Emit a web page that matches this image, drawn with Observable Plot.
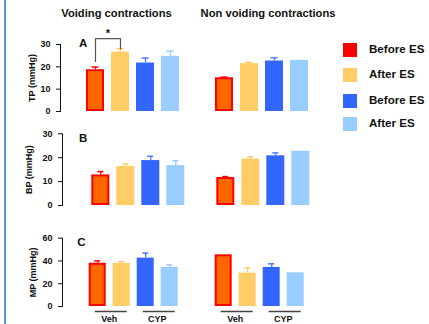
<!DOCTYPE html>
<html>
<head>
<meta charset="utf-8">
<script src="https://cdn.jsdelivr.net/npm/d3@7"></script>
<script src="https://cdn.jsdelivr.net/npm/@observablehq/plot@0.6"></script>
<style>
  html, body { margin: 0; padding: 0; background: #fff; }
  #fig { position: relative; width: 429px; height: 324px; background: #fff; overflow: hidden;
         font-family: "Liberation Sans", Arial, Helvetica, sans-serif; color: #111; }
  .abs { position: absolute; }
  .edge { position: absolute; left: 4px; top: 0; width: 1.5px; height: 324px; background: #5b93dc; }
  .title { position: absolute; font-weight: bold; font-size: 11.2px; line-height: 13px; white-space: nowrap; transform: translateX(-50%); }
  .letter { position: absolute; font-weight: bold; font-size: 11.5px; line-height: 12px; }
  .sw { position: absolute; width: 14px; height: 14px; }
  .lt { position: absolute; font-weight: bold; font-size: 11.6px; line-height: 14px; white-space: nowrap; }
  svg { overflow: visible; }
</style>
</head>
<body>
<div id="fig"><div class="edge"></div></div>
<script>
// ---------- data ----------
const conditions = ["Veh Before ES", "Veh After ES", "CYP Before ES", "CYP After ES"];
const legendLabels = ["Before ES", "After ES", "Before ES", "After ES"];
const contractionTypes = ["Voiding contractions", "Non voiding contractions"];
const groupLabels = ["Veh", "CYP"];
const panelLetters = ["A", "B", "C"];
const yLabels = ["TP (mmHg)", "BP (mmHg)", "MP (mmHg)"];
const ticks30 = [0, 10, 20, 30];
const ticks60 = [0, 20, 40, 60];

const tpVoidingMean = [18.7, 26.6, 21.7, 24.7];
const tpVoidingSem = [1.2, 1.5, 2.2, 2.3];
const tpNonVoidingMean = [15.1, 21.4, 22.6, 22.9];
const tpNonVoidingSem = [0.3, 0.6, 1.5, 0];

const bpVoidingMean = [12.8, 16.3, 18.8, 16.7];
const bpVoidingSem = [1.4, 1.1, 1.8, 2.0];
const bpNonVoidingMean = [11.7, 19.4, 20.8, 22.7];
const bpNonVoidingSem = [0.4, 1.0, 1.2, 0];

const mpVoidingMean = [38.0, 37.8, 42.5, 34.3];
const mpVoidingSem = [2.1, 1.5, 4.4, 2.3];
const mpNonVoidingMean = [45.4, 29.3, 34.3, 29.6];
const mpNonVoidingSem = [0, 4.7, 3.2, 0];

// significance: TP voiding, Before ES (Veh) vs After ES (Veh)
const sigFrom = [0];
const sigTo = [1];
const sigText = ["*"];

// ---------- styles ----------
const barColors = ["#ff6600", "#ffcc66", "#3366ff", "#99ccff"];
const legendColors = ["#ff0000", "#ffcc66", "#3366ff", "#99ccff"];
const errColors = ["#ff0000", "#ffcc66", "#4d79ff", "#99ccff"];
const outlineColor = "#ff0000";
const W = 429;
const FONT = '"Liberation Sans", Arial, Helvetica, sans-serif';

const fig = document.getElementById("fig");

function makePanel(cfg) {
  const rows = [];
  contractionTypes.forEach((type, ti) =>
    conditions.forEach((cond, ci) =>
      rows.push({type, cond, ci, mean: cfg.means[ti][ci], sem: cfg.sems[ti][ci]})));
  const L = cfg.layout;
  const a = L.leftStart - L.axisX;
  const R = 3 * L.step + L.barW;
  const Wf = a + R;
  const S = L.rightStart - L.leftStart;
  const q = Math.max(0, (S - Wf) / S);
  const marginRight = W - L.axisX - (S + Wf);
  const errRows = rows.filter(d => d.sem > 0);
  const capInset = (L.barW - 7) / 2;

  const marks = [
    Plot.barY(rows.filter(d => d.ci !== 0), {fx: "type", x: "cond", y: "mean", fill: "cond"}),
    Plot.barY(rows.filter(d => d.ci === 0), {fx: "type", x: "cond", y: "mean", fill: "cond",
      stroke: outlineColor, strokeWidth: 2, inset: 1}),
    Plot.ruleX(errRows, {fx: "type", x: "cond", y1: "mean", y2: d => d.mean + d.sem,
      stroke: d => errColors[d.ci], strokeWidth: 1.3}),
    Plot.tickY(errRows, {fx: "type", x: "cond", y: d => d.mean + d.sem,
      stroke: d => errColors[d.ci], strokeWidth: 1.5, insetLeft: capInset, insetRight: capInset}),
    // y-axis title, drawn in the leftmost facet only
    Plot.text([{type: contractionTypes[0], label: cfg.label}], {fx: "type", text: "label",
      frameAnchor: "left", rotate: -90, dx: -cfg.labelOffset, textAnchor: "middle", lineAnchor: "middle",
      fontSize: 9, fontWeight: "bold", fill: "#111"})
  ];

  if (cfg.sig) {
    const pts = [];
    const labels = [];
    sigFrom.forEach((f, k) => {
      const t = sigTo[k];
      const r0 = rows[f], r1 = rows[t];
      const e0 = r0.mean + r0.sem, e1 = r1.mean + r1.sem;
      const top = Math.max(e0, e1) + 4.5;
      const type = contractionTypes[0];
      pts.push({type, k, cond: conditions[f], v: e0 + 2.5});
      pts.push({type, k, cond: conditions[f], v: top});
      pts.push({type, k, cond: conditions[t], v: top});
      pts.push({type, k, cond: conditions[t], v: e1});
      labels.push({type, cond: conditions[t], v: top, text: sigText[k]});
    });
    marks.push(Plot.line(pts, {fx: "type", x: "cond", y: "v", z: "k", stroke: "#555", strokeWidth: 1.2, curve: "linear"}));
    marks.push(Plot.text(labels, {fx: "type", x: "cond", y: "v", text: "text", dx: -L.step / 2, dy: -5.5,
      lineAnchor: "middle", fontSize: 11, fontWeight: "bold", fill: "#111"}));
  }

  if (cfg.groups) {
    const g = [];
    contractionTypes.forEach(type => groupLabels.forEach((lab, gi) =>
      g.push({type, c1: conditions[gi * 2], c2: conditions[gi * 2 + 1], label: lab})));
    marks.push(Plot.ruleY(g, {fx: "type", x1: "c1", x2: "c2", y: () => 0, dy: 5,
      insetLeft: 6, insetRight: 3, stroke: "#444", strokeWidth: 1.3}));
    marks.push(Plot.text(g, {fx: "type", x: "c2", y: () => 0, text: "label", dx: -L.step / 2, dy: 13,
      lineAnchor: "middle", fontSize: 9, fontWeight: "bold", fill: "#111"}));
  }

  const svg = Plot.plot({
    width: W,
    height: L.height,
    marginLeft: L.axisX,
    marginRight,
    marginTop: L.mt,
    marginBottom: L.mb,
    style: {fontFamily: FONT, fontSize: "9px", fontWeight: "bold", background: "transparent", overflow: "visible", color: "#111"},
    fx: {domain: contractionTypes, paddingInner: q, paddingOuter: 0, axis: null},
    x: {domain: conditions, paddingInner: 1 - L.barW / L.step, paddingOuter: 0, insetLeft: a, insetRight: 0, axis: null},
    y: {domain: cfg.domain, ticks: cfg.ticks, tickSize: 4, tickPadding: 6, line: true, label: null},
    color: {domain: conditions, range: barColors},
    marks
  });
  const holder = document.createElement("div");
  holder.className = "abs";
  holder.style.left = "0px";
  holder.style.top = L.top + "px";
  holder.appendChild(svg);
  fig.appendChild(holder);
}

makePanel({
  means: [tpVoidingMean, tpNonVoidingMean], sems: [tpVoidingSem, tpNonVoidingSem],
  domain: [0, 30], ticks: ticks30, label: yLabels[0], labelOffset: 28, sig: true,
  layout: {top: 24, height: 92, mt: 20, mb: 5, axisX: 60, leftStart: 85, rightStart: 214, step: 25.3, barW: 18}
});
makePanel({
  means: [bpVoidingMean, bpNonVoidingMean], sems: [bpVoidingSem, bpNonVoidingSem],
  domain: [0, 30], ticks: ticks30, label: yLabels[1], labelOffset: 33.5,
  layout: {top: 118, height: 92, mt: 15.3, mb: 5, axisX: 61.7, leftStart: 89.3, rightStart: 214.3, step: 25.8, barW: 19}
});
makePanel({
  means: [mpVoidingMean, mpNonVoidingMean], sems: [mpVoidingSem, mpNonVoidingSem],
  domain: [0, 60], ticks: ticks60, label: yLabels[2], labelOffset: 29.5, groups: true,
  layout: {top: 222, height: 102, mt: 15.7, mb: 18, axisX: 62.3, leftStart: 87.3, rightStart: 213.3, step: 24.8, barW: 18}
});

// titles
const titleX = [116.5, 268];
contractionTypes.forEach((t, i) => {
  const d = document.createElement("div");
  d.className = "title";
  d.style.left = titleX[i] + "px";
  d.style.top = "7px";
  d.textContent = t;
  fig.appendChild(d);
});

// panel letters
const letterPos = [[79, 36.5], [79, 132], [77.3, 235.5]];
panelLetters.forEach((l, i) => {
  const d = document.createElement("div");
  d.className = "letter";
  d.style.left = letterPos[i][0] + "px";
  d.style.top = letterPos[i][1] + "px";
  d.textContent = l;
  fig.appendChild(d);
});

// legend
const legendTop = [42.5, 68, 94, 116.7];
legendLabels.forEach((lab, i) => {
  const s = document.createElement("div");
  s.className = "sw";
  s.style.left = "343px";
  s.style.top = legendTop[i] + "px";
  s.style.background = legendColors[i];
  fig.appendChild(s);
  const t = document.createElement("div");
  t.className = "lt";
  t.style.left = "369px";
  t.style.top = (legendTop[i] - 1) + "px";
  t.textContent = lab;
  fig.appendChild(t);
});
</script>
</body>
</html>
